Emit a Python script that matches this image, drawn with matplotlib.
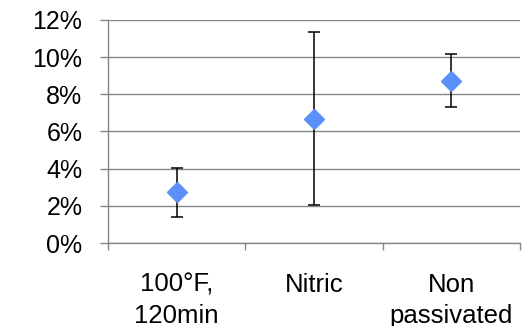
import numpy as np
import matplotlib.pyplot as plt
from matplotlib.ticker import PercentFormatter

# dados
categorias = ["100°F,\n120min", "Nitric", "Non\npassivated"]
medias = [0.0272, 0.0668, 0.0872]
erros = [0.0130, 0.0465, 0.0142]

plt.rcParams["font.family"] = ["Liberation Sans", "DejaVu Sans"]

fig = plt.figure(figsize=(5.29, 3.26), dpi=100)
ax = fig.add_axes([0.204, 0.2546, 0.779, 0.6844])

x = np.arange(len(categorias))
ax.errorbar(x, medias, yerr=erros, fmt="none", ecolor="black",
            elinewidth=1.1, capsize=4.3, capthick=1.1, zorder=3)
ax.plot(x, medias, linestyle="none", marker="D", markersize=10.5,
        color="#5b8ff9", zorder=4)

ax.set_xlim(-0.5, 2.5)
ax.set_ylim(0, 0.12)
ax.set_yticks(np.arange(0, 0.121, 0.02))
ax.yaxis.set_major_formatter(PercentFormatter(1.0, decimals=0))

ax.set_xticks(x)
ax.set_xticklabels(categorias, linespacing=1.35)
ax.set_xticks([-0.5, 0.5, 1.5, 2.5], minor=True)

cinza = "#868686"
ax.grid(axis="y", color=cinza, linewidth=1.0)
ax.set_axisbelow(True)
for lado in ["top", "right"]:
    ax.spines[lado].set_visible(False)
for lado in ["left", "bottom"]:
    ax.spines[lado].set_color(cinza)
    ax.spines[lado].set_linewidth(1.0)

ax.tick_params(axis="y", length=5.8, width=1.0, color=cinza, pad=12.5,
               labelsize=18)
ax.tick_params(axis="x", which="major", length=0, pad=21.5, labelsize=18.5)
ax.tick_params(axis="x", which="minor", length=5.2, width=1.0, color=cinza)

plt.savefig("out.png", dpi=100)
